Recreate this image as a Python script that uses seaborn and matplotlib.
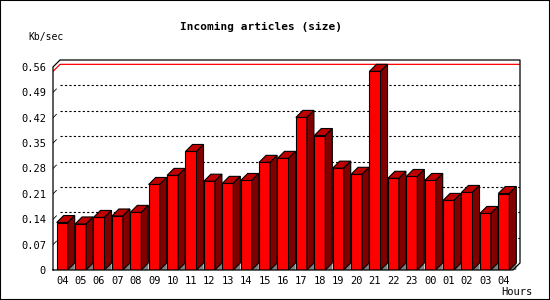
import numpy as np
import pandas as pd
import matplotlib
matplotlib.use("Agg")
import matplotlib.pyplot as plt
import seaborn as sns
from matplotlib.patches import Polygon, Rectangle

# data
hours = ["04", "05", "06", "07", "08", "09", "10", "11", "12", "13", "14", "15", "16",
         "17", "18", "19", "20", "21", "22", "23", "00", "01", "02", "03", "04"]
kb_sec = [0.131, 0.127, 0.145, 0.149, 0.159, 0.236, 0.261, 0.327, 0.245, 0.239, 0.247,
          0.297, 0.308, 0.421, 0.371, 0.281, 0.264, 0.548, 0.253, 0.258, 0.247, 0.192,
          0.214, 0.156, 0.211]
y_ticks = [0, 0.07, 0.14, 0.21, 0.28, 0.35, 0.42, 0.49, 0.56]
y_tick_labels = ["0", "0.07", "0.14", "0.21", "0.28", "0.35", "0.42", "0.49", "0.56"]

sns.set_style("white")
plt.rcParams['font.family'] = ['DejaVu Sans Mono', 'DejaVu Sans']
plt.rcParams['text.color'] = 'black'
plt.rcParams['xtick.color'] = 'black'
plt.rcParams['ytick.color'] = 'black'

fig = plt.figure(figsize=(5.5, 3), dpi=100)
ax = fig.add_axes([53 / 550, 30 / 300, 467 / 550, 210 / 300])

df = pd.DataFrame({"slot": np.arange(len(hours)), "value": kb_sec})
sns.barplot(data=df, x="slot", y="value", color="#ff0000", saturation=1,
            width=0.6, edgecolor="black", linewidth=0.8, ax=ax, zorder=3)

# 3d depth, in data units
n = len(hours)
dx = 7 / 18.4
dy = 7 / 362.5
top = y_ticks[-1]
ax.set_xlim(-0.5, n - 0.5 + dx)
ax.set_ylim(0, top + dy)

# top / side faces and floor shadow for each bar
for p in ax.patches[:n]:
    x0 = p.get_x()
    x1 = x0 + p.get_width()
    h = p.get_height()
    ax.add_patch(Polygon([(x0, h), (x0 + dx, h + dy), (x1 + dx, h + dy), (x1, h)],
                         closed=True, facecolor="#c00000", edgecolor="black", lw=0.8, zorder=3))
    ax.add_patch(Polygon([(x1, h), (x1 + dx, h + dy), (x1 + dx, dy), (x1, 0)],
                         closed=True, facecolor="#800000", edgecolor="black", lw=0.8, zorder=3))
    ax.add_patch(Polygon([(x1, 0), (x1 + dx, dy), (x1 + dx, 0)],
                         closed=True, facecolor="#808080", edgecolor="none", zorder=2))

# grid on the back wall
for t in y_ticks[1:-1]:
    ax.plot([-0.5 + dx, n - 0.5 + dx], [t + dy, t + dy], color="black", lw=0.8,
            linestyle=(0, (2, 2)), zorder=1)
    ax.plot([-0.5, -0.5 + dx * 0.5], [t, t + dy * 0.5], color="black", lw=0.6, zorder=1)

# max line
vmax = max(kb_sec)
ax.plot([-0.5, -0.5 + dx, n - 0.5 + dx], [vmax, vmax + dy, vmax + dy],
        color="#ff0000", lw=0.9, zorder=1)

# frame
ax.plot([-0.5, -0.5, -0.5 + dx, n - 0.5 + dx, n - 0.5 + dx, n - 0.5, -0.5],
        [0, top, top + dy, top + dy, dy, 0, 0],
        color="black", lw=0.9, zorder=4, clip_on=False)
for s in ax.spines.values():
    s.set_visible(False)

ax.set_xticks(np.arange(n))
ax.set_xticklabels(hours, fontsize=7.5)
ax.set_xticks(np.arange(n) + 0.5, minor=True)
ax.tick_params(axis="x", which="major", length=0, pad=4)
ax.tick_params(axis="x", which="minor", length=3, width=0.8, direction="out")
ax.set_yticks(y_ticks)
ax.set_yticklabels(y_tick_labels, fontsize=7.5)
ax.tick_params(axis="y", length=3, width=0.8, direction="out", pad=2)
ax.set_xlabel("")
ax.set_ylabel("")

fig.text(261 / 550, 1 - 27 / 300, "Incoming articles (size)", ha="center", va="center",
         fontsize=8, fontweight="bold")
fig.text(28 / 550, 1 - 37 / 300, "Kb/sec", ha="left", va="center", fontsize=7)
fig.text(533 / 550, 1 - 292 / 300, "Hours", ha="right", va="center", fontsize=7.5)

fig.patches.append(Rectangle((0, 0), 1, 1, transform=fig.transFigure, fill=False,
                             edgecolor="black", lw=1.5))

fig.savefig("out.png", dpi=100, facecolor="white")
